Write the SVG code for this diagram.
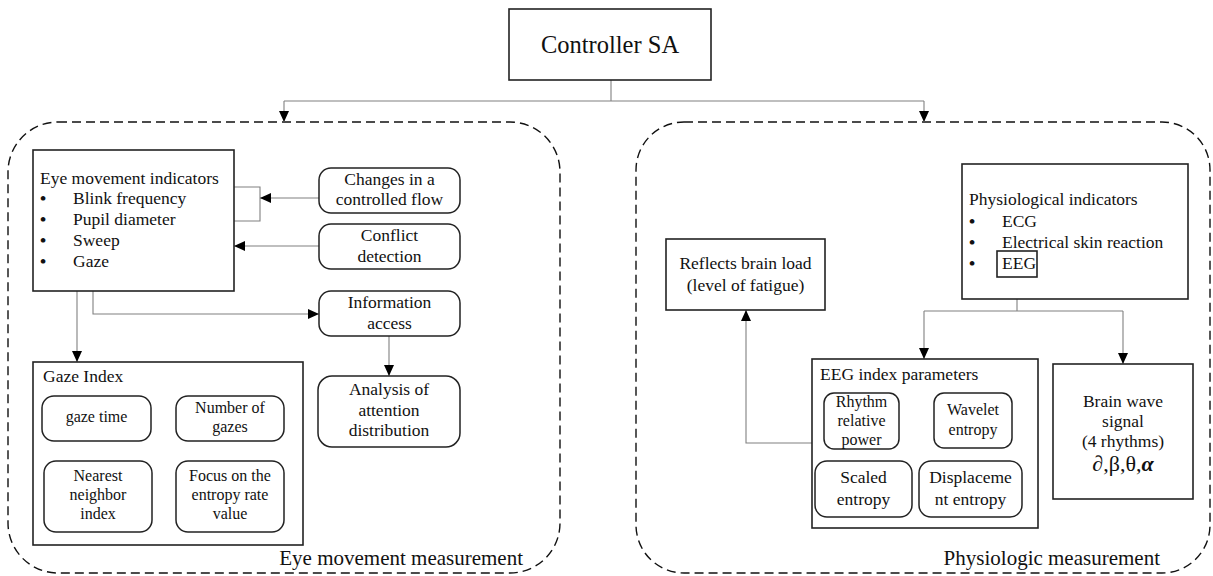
<svg xmlns="http://www.w3.org/2000/svg" width="1213" height="576" viewBox="0 0 1213 576">
<style>
text{font-family:'Liberation Serif',Tinos,'Times New Roman','DejaVu Serif',serif;fill:#111;font-size:17.5px}
.c{text-anchor:middle}
.s{font-size:16px}
.b{font-weight:bold}
.box{fill:#fff;stroke:#222;stroke-width:1.6}
.rb{fill:#fff;stroke:#222;stroke-width:1.5}
.frame{fill:none;stroke:#111;stroke-width:1.4;stroke-dasharray:9 5}
.ln{fill:none;stroke:#808080;stroke-width:1.1}
.ar{fill:none;stroke:#808080;stroke-width:1.1;marker-end:url(#ah)}
.lbl{font-size:21px;text-anchor:end}
</style>
<defs>
<marker id="ah" markerUnits="userSpaceOnUse" markerWidth="12" markerHeight="10" refX="11" refY="5" orient="auto">
<path d="M0,0 L11,5 L0,10 Z" fill="#000"/>
</marker>
</defs>
<g id="frame-eye">
<rect class="frame" x="8" y="122" width="552" height="451" rx="50" ry="50"/>
<text class="lbl" x="523" y="565">Eye movement measurement</text>
</g>
<g id="frame-phys">
<rect class="frame" x="636" y="122" width="574" height="451" rx="48" ry="48"/>
<text class="lbl" x="1160" y="565">Physiologic measurement</text>
</g>

<g id="connectors">
<path class="ln" d="M611,80 V101 M284,101 H924"/>
<path class="ar" d="M284,101 V122"/>
<path class="ar" d="M924,101 V122"/>
<path class="ln" d="M234,187 H260 V221 H234"/>
<path class="ar" d="M319,198 H260"/>
<path class="ar" d="M319,246 H234"/>
<path class="ar" d="M77,291 V362"/>
<path class="ar" d="M93,291 V314 H319"/>
<path class="ar" d="M389,336 V376"/>
<path class="ln" d="M1017,277 V311 M924,311 H1123"/>
<path class="ar" d="M924,311 V359"/>
<path class="ar" d="M1123,311 V364"/>
<path class="ar" d="M812,443 H746 V310"/>
</g>

<g id="controller">
<rect class="box" x="509" y="9" width="202" height="71"/>
<text class="c" x="610" y="53" style="font-size:24.5px">Controller SA</text>
</g>

<g id="eye-indicators">
<rect class="box" x="33" y="150" width="201" height="141"/>
<text x="40" y="184">Eye movement indicators</text>
<text class="b" x="40" y="204">•</text><text x="73" y="204">Blink frequency</text>
<text class="b" x="40" y="225">•</text><text x="73" y="225">Pupil diameter</text>
<text class="b" x="40" y="246">•</text><text x="73" y="246">Sweep</text>
<text class="b" x="40" y="267">•</text><text x="73" y="267">Gaze</text>
</g>

<g id="changes">
<rect class="rb" x="319" y="168" width="141" height="45" rx="12"/>
<text class="c" x="389.5" y="185">Changes in a</text>
<text class="c" x="389.5" y="205">controlled flow</text>
</g>

<g id="conflict">
<rect class="rb" x="319" y="224" width="141" height="45" rx="12"/>
<text class="c" x="389.5" y="241">Conflict</text>
<text class="c" x="389.5" y="262">detection</text>
</g>

<g id="info-access">
<rect class="rb" x="319" y="291" width="141" height="45" rx="12"/>
<text class="c" x="389.5" y="308">Information</text>
<text class="c" x="389.5" y="329">access</text>
</g>

<g id="analysis">
<rect class="rb" x="318" y="376" width="142" height="71" rx="14"/>
<text class="c" x="389" y="395">Analysis of</text>
<text class="c" x="389" y="416">attention</text>
<text class="c" x="389" y="436">distribution</text>
</g>

<g id="gaze-index">
<rect class="box" x="33" y="362" width="270" height="183"/>
<text x="43" y="382">Gaze Index</text>
</g>
<g id="gaze-time">
<rect class="rb" x="42" y="396" width="109" height="45" rx="12"/>
<text class="c s" x="96.5" y="422">gaze time</text>
</g>
<g id="num-gazes">
<rect class="rb" x="176" y="396" width="108" height="45" rx="12"/>
<text class="c s" x="230" y="413">Number of</text>
<text class="c s" x="230" y="432">gazes</text>
</g>
<g id="nearest">
<rect class="rb" x="44" y="461" width="108" height="71" rx="12"/>
<text class="c s" x="98" y="481">Nearest</text>
<text class="c s" x="98" y="500">neighbor</text>
<text class="c s" x="98" y="519">index</text>
</g>
<g id="focus">
<rect class="rb" x="176" y="461" width="108" height="71" rx="12"/>
<text class="c s" x="230" y="481">Focus on the</text>
<text class="c s" x="230" y="500">entropy rate</text>
<text class="c s" x="230" y="519">value</text>
</g>

<g id="phys-indicators">
<rect class="box" x="962" y="164" width="226" height="135"/>
<text x="969" y="205">Physiological indicators</text>
<text class="b" x="969" y="227">•</text><text x="1002" y="227">ECG</text>
<text class="b" x="969" y="248">•</text><text x="1002" y="248">Electrical skin reaction</text>
<text class="b" x="969" y="269">•</text><text x="1002" y="269">EEG</text>
<rect x="997" y="251" width="40" height="26" style="fill:none;stroke:#222;stroke-width:1.6"/>
</g>

<g id="reflects">
<rect class="box" x="666" y="239" width="159" height="71"/>
<text class="c" x="745.5" y="269">Reflects brain load</text>
<text class="c" x="745.5" y="291">(level of fatigue)</text>
</g>

<g id="eeg-index">
<rect class="box" x="812" y="359" width="226" height="169"/>
<text x="820" y="380">EEG index parameters</text>
</g>
<g id="rhythm">
<rect class="rb" x="824" y="393" width="75" height="56" rx="10"/>
<text class="c s" x="861.5" y="407">Rhythm</text>
<text class="c s" x="861.5" y="426">relative</text>
<text class="c s" x="861.5" y="445">power</text>
</g>
<g id="wavelet">
<rect class="rb" x="934" y="393" width="78" height="55" rx="10"/>
<text class="c s" x="973" y="415">Wavelet</text>
<text class="c s" x="973" y="435">entropy</text>
</g>
<g id="scaled">
<rect class="rb" x="815" y="461" width="97" height="56" rx="12"/>
<text class="c" x="863.5" y="483">Scaled</text>
<text class="c" x="863.5" y="505">entropy</text>
</g>
<g id="displacement">
<rect class="rb" x="919" y="461" width="103" height="56" rx="12"/>
<text class="c" x="970.5" y="483">Displaceme</text>
<text class="c" x="970.5" y="505">nt entropy</text>
</g>

<g id="brain-wave">
<rect class="box" x="1053" y="364" width="140" height="135"/>
<text class="c" x="1123" y="407">Brain wave</text>
<text class="c" x="1123" y="427">signal</text>
<text class="c" x="1123" y="447">(4 rhythms)</text>
<text class="c" x="1123" y="471" style="font-size:22px">∂,β,θ,<tspan font-weight="bold" font-style="italic">α</tspan></text>
</g>
</svg>
